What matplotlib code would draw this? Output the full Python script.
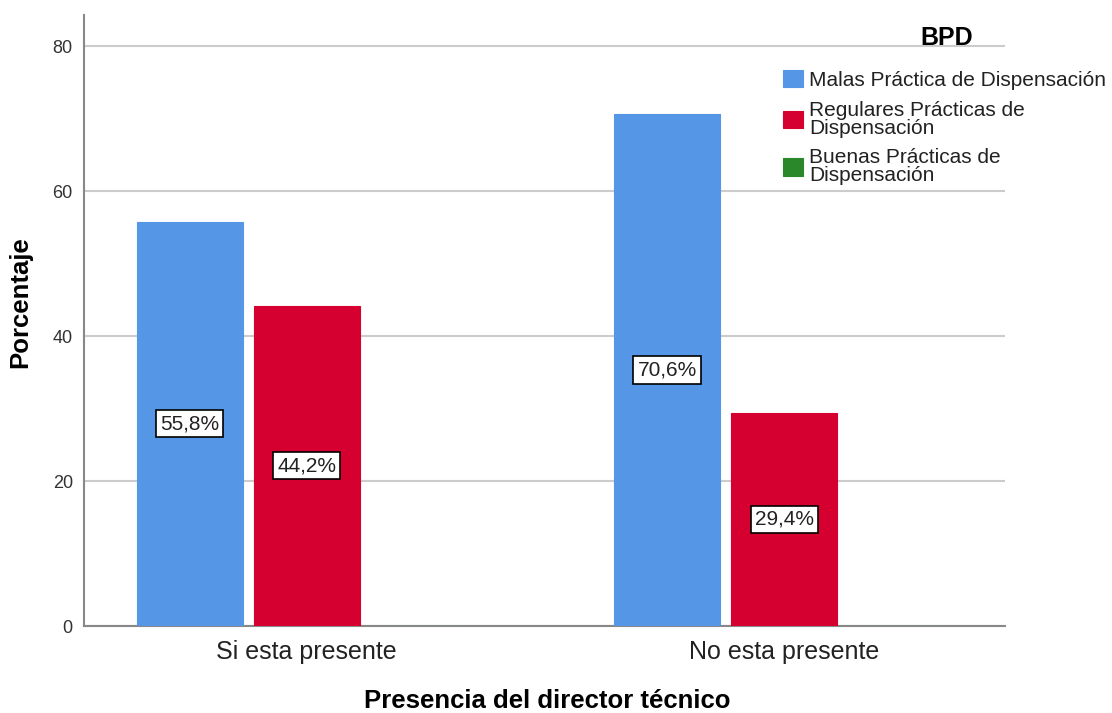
import matplotlib.pyplot as plt
import numpy as np

plt.rcParams['font.family'] = ['Liberation Sans', 'DejaVu Sans']

categorias = ["Si esta presente", "No esta presente"]
series = ["Malas Práctica de Dispensación",
          "Regulares Prácticas de\nDispensación",
          "Buenas Prácticas de\nDispensación"]
malas = [55.8, 70.6]
regulares = [44.2, 29.4]
buenas = [0.0, 0.0]
colores = ["#5596e6", "#d5002f", "#2a882a"]

fig = plt.figure(figsize=(11.12, 7.13), dpi=100)
ax = fig.add_axes([0.0755, 0.122, 0.8283, 0.857])

x = np.arange(len(categorias))
ancho = 0.222
paso = 0.245
valores = [malas, regulares, buenas]

for i, (vals, nombre, col) in enumerate(zip(valores, series, colores)):
    pos = x + (i - 1) * paso
    barras = ax.bar(pos, vals, width=ancho, color=col, edgecolor=col,
                    linewidth=0.8, label=nombre, zorder=3)
    for b, v in zip(barras, vals):
        if v > 0:
            ax.text(b.get_x() + b.get_width() / 2, v / 2,
                    f"{v:.1f}%".replace(".", ","),
                    ha="center", va="center", fontsize=15, color="#222222",
                    zorder=4,
                    bbox=dict(boxstyle="square,pad=0.2", facecolor="white",
                              edgecolor="black", linewidth=1.2))

ax.set_xlim(-0.466, 1.462)
ax.set_ylim(0, 84.3)
ax.set_yticks([0, 20, 40, 60, 80])
ax.set_xticks(x)
ax.set_xticklabels(categorias, fontsize=18, color="#222222")
ax.tick_params(axis="y", labelsize=13, length=0, pad=8, colors="#333333")
ax.tick_params(axis="x", length=0, pad=10)

ax.yaxis.grid(True, color="#cccccc", linewidth=1.5, zorder=0)
ax.set_axisbelow(True)
for s in ["top", "right"]:
    ax.spines[s].set_visible(False)
for s in ["left", "bottom"]:
    ax.spines[s].set_color("#888888")
    ax.spines[s].set_linewidth(1.5)

ax.set_ylabel("Porcentaje", fontsize=18.5, fontweight="bold")
ax.yaxis.set_label_coords(-0.0565, 0.53)
ax.set_xlabel("Presencia del director técnico", fontsize=18.5,
              fontweight="bold")
ax.xaxis.set_label_coords(0.503, -0.103)

leg = ax.legend(loc="upper left", bbox_to_anchor=(0.697, 0.9136),
                bbox_transform=fig.transFigure, frameon=False,
                fontsize=15, handlelength=0.92, handleheight=0.92,
                handletextpad=0.3, labelspacing=0.52, borderaxespad=0)
for t in leg.get_texts():
    t.set_linespacing(0.92)
    t.set_color("#222222")
fig.text(0.851, 0.947, "BPD", ha="center", va="center",
         fontsize=18, fontweight="bold")

fig.savefig("out.png", dpi=100)
